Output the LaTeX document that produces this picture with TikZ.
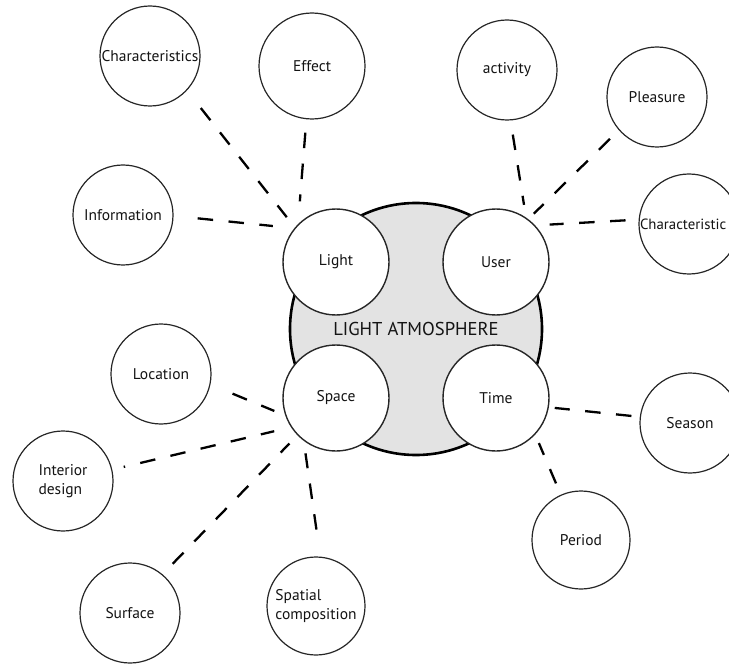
\documentclass[tikz,border=0pt]{standalone}
\usepackage{fontspec}
\setmainfont{PT Sans}
\begin{document}
\begin{tikzpicture}[x=1pt,y=-1pt,
  circ/.style={circle,draw=black!85,line width=1.2pt,fill=white,minimum size=100pt,inner sep=0pt,
    font=\fontsize{15.5}{19}\selectfont,text=black!92},
  innercirc/.style={circ,minimum size=106pt,line width=1.4pt},
  conn/.style={line width=2.3pt,dash pattern=on 15.5pt off 15.5pt}]
\useasboundingbox (0,0) rectangle (729,666);
\clip (0,0) rectangle (729,666);
% central circle
\node[circle,draw=black,line width=2.6pt,fill=gray!22,minimum size=252pt,inner sep=0pt,
  font=\fontsize{18.6}{21}\selectfont,text=black!92] (atm) at (416,329) {LIGHT ATMOSPHERE};
% inner circles
\node[innercirc] (light) at (336,262) {Light};
\node[innercirc] (user) at (496,262) {User};
\node[innercirc] (space) at (336,398) {Space};
\node[innercirc] (time) at (496,398) {Time};
% outer circles
\node[circ] (char1) at (150,56) {Characteristics};
\node[circ,minimum size=106pt] (effect) at (312,66) {Effect};
\node[circ] (info) at (123,215) {Information};
\node[circ] (activity) at (507,70) {activity};
\node[circ] (pleasure) at (657,97) {Pleasure};
\node[circ,font=\fontsize{14.8}{19}\selectfont,text width=98pt,align=left] (char2) at (689,224) {Characteristic};
\node[circ] (location) at (161,374) {Location};
\node[circ,align=left] (interior) at (63,481) {Interior\\design};
\node[circ] (surface) at (130,613) {Surface};
\node[circ,minimum size=98pt,align=left] (spatial) at (316,606) {Spatial\\composition};
\node[circ] (season) at (690,423) {Season};
\node[circ,minimum size=98pt] (period) at (581,540) {Period};
% connectors
\draw[conn,shorten <=22.3pt,shorten >=13.1pt] (char1.-43.6) -- (light.140.5);
\draw[conn,shorten <=13.4pt,shorten >=22.7pt] (effect.-96.6) -- (light.135.2);
\draw[conn,shorten <=24.2pt,shorten >=21.5pt] (info.-1.7) -- (light.141.8);
\draw[conn,shorten <=14.3pt,shorten >=12.8pt] (activity.-86.8) -- (user.56.9);
\draw[conn,shorten <=12.4pt,shorten >=7.7pt] (pleasure.-139.8) -- (user.53.5);
\draw[conn,shorten <=13.1pt,shorten >=14.4pt] (char2.175.8) -- (user.43.2);
\draw[conn,shorten <=23.9pt,shorten >=11.8pt] (location.-12.9) -- (space.199);
\draw[conn,dash phase=14pt,shorten <=11.7pt,shorten >=17.2pt] (interior.13.6) -- (space.213.3);
\draw[conn,shorten <=14.6pt,shorten >=11.4pt] (surface.50.4) -- (space.224.1);
\draw[conn,shorten <=27.3pt,shorten >=12.6pt] (spatial.85.9) -- (space.233.4);
\draw[conn,shorten <=8.4pt,shorten >=5.9pt] (season.173) -- (time.-10.2);
\draw[conn,shorten <=12.3pt,shorten >=9.2pt] (period.114.2) -- (time.-43.7);
\end{tikzpicture}
\end{document}
